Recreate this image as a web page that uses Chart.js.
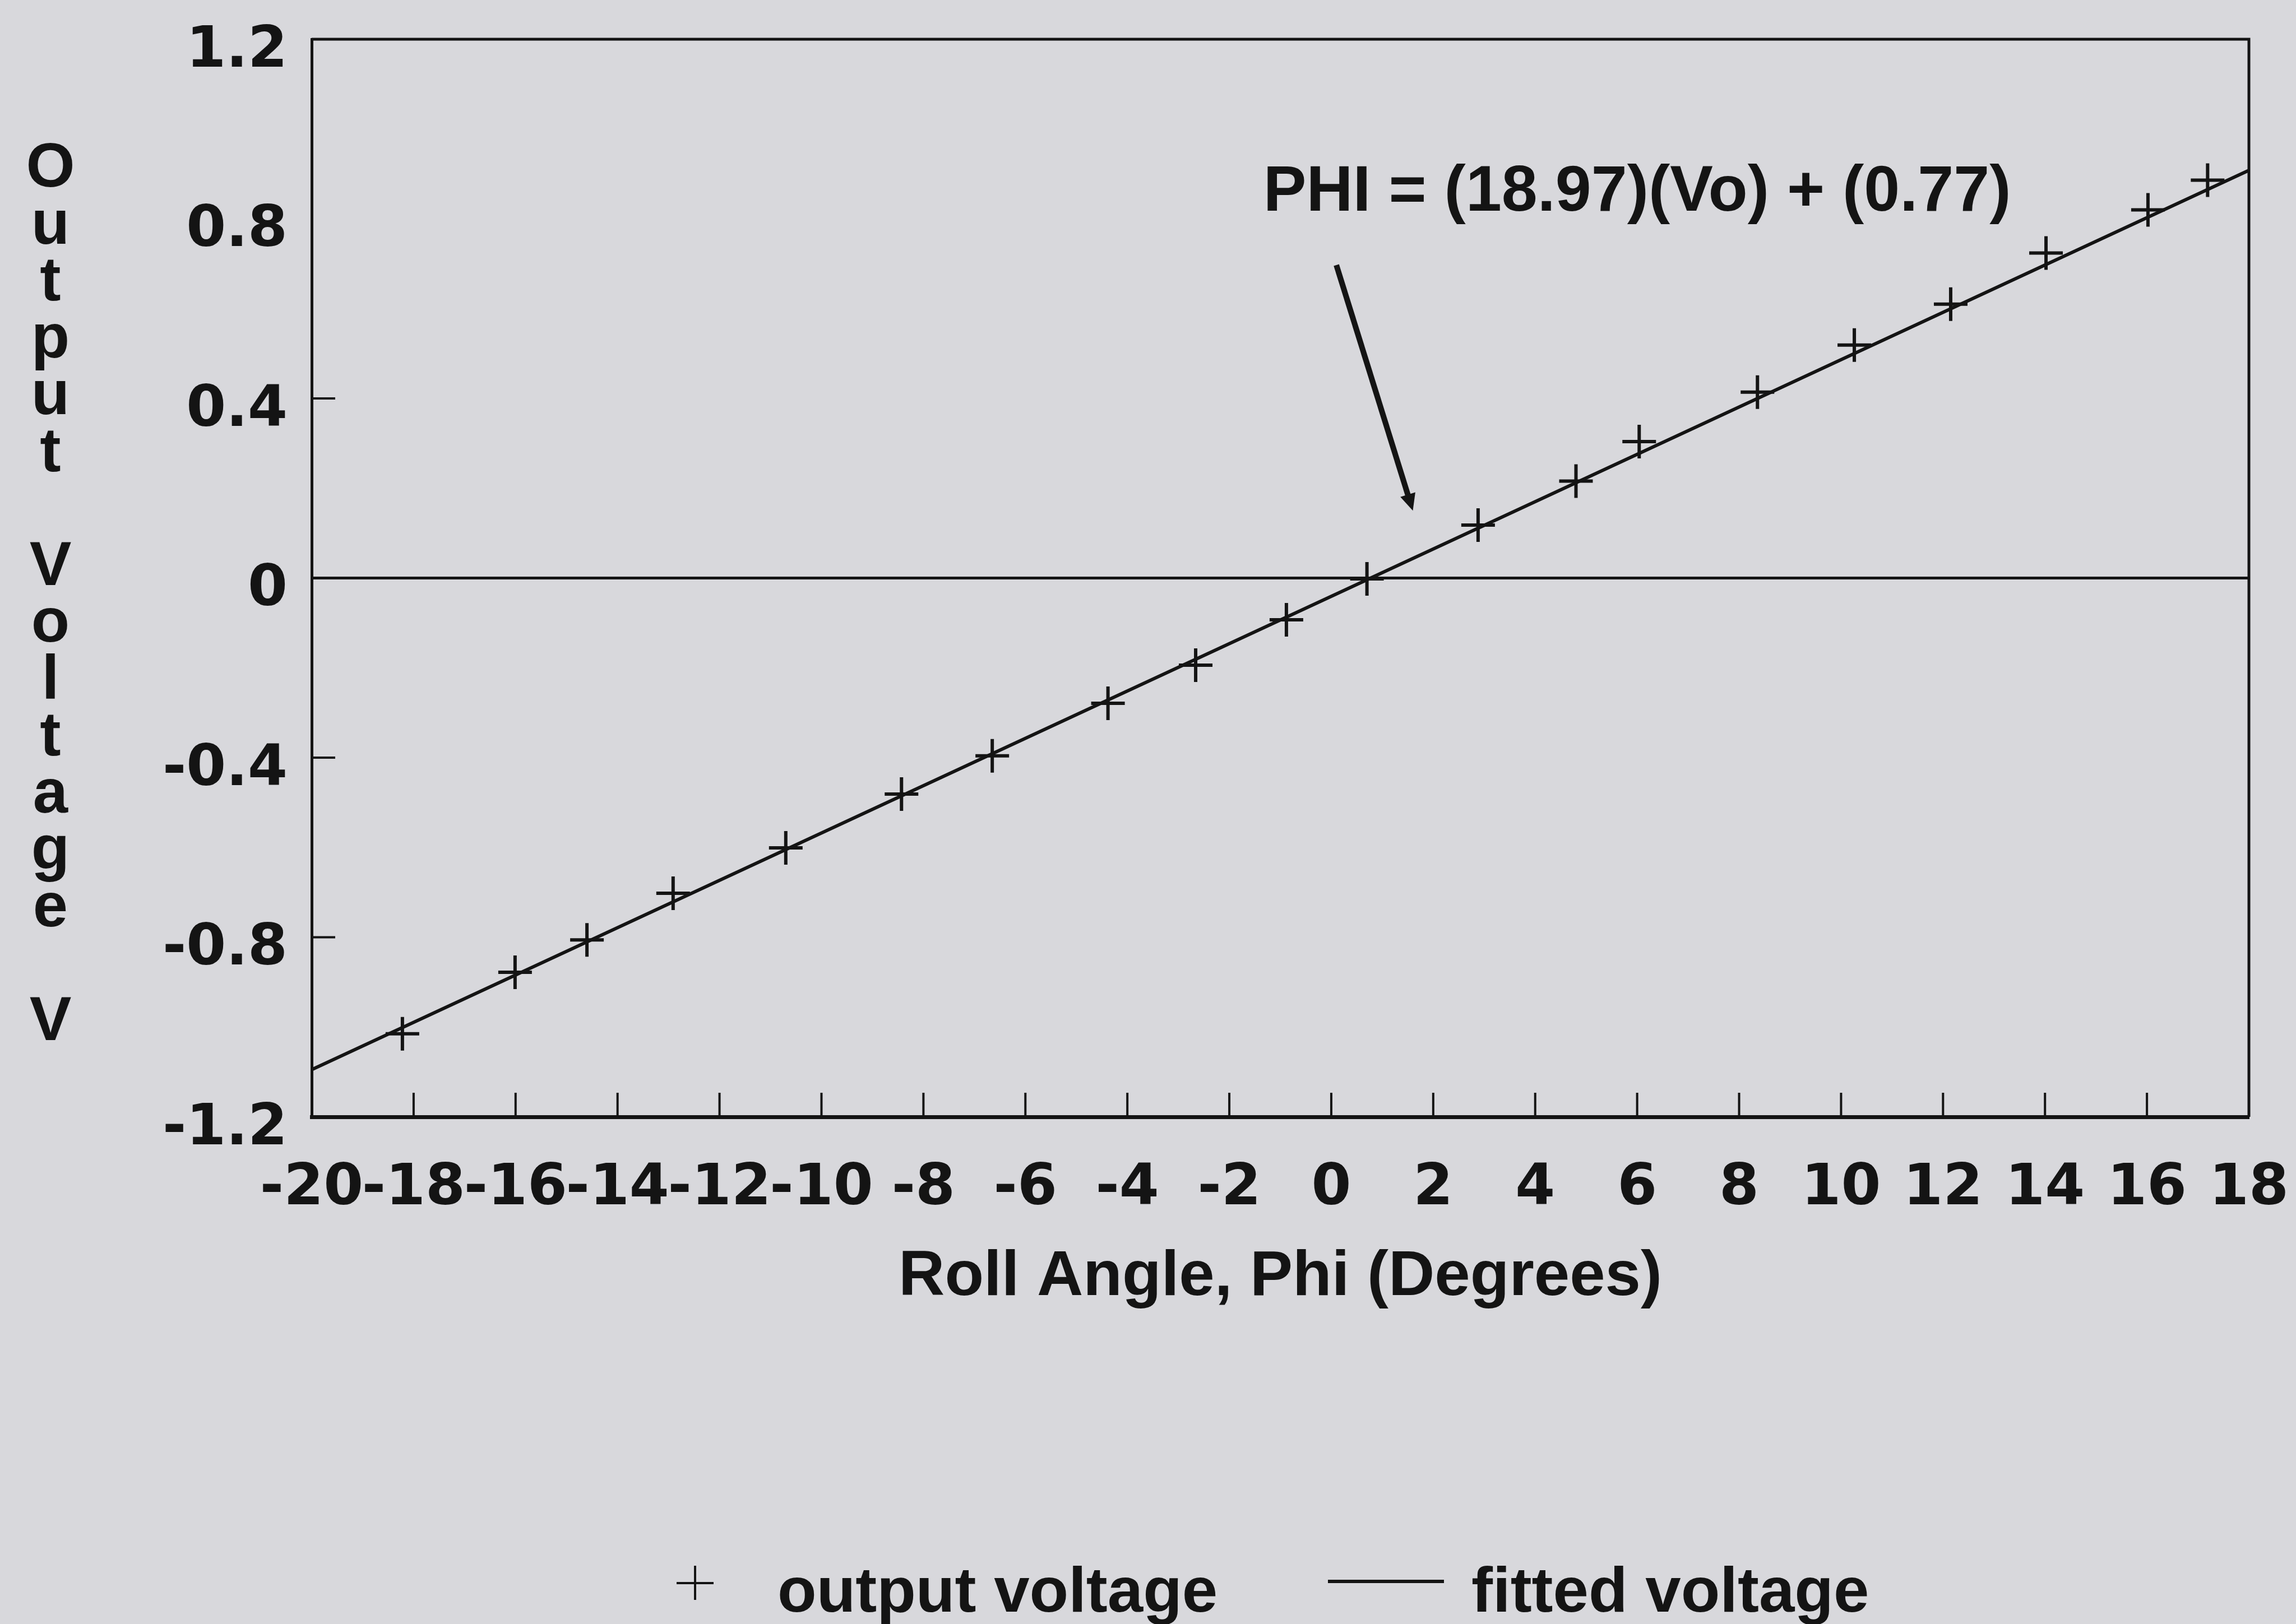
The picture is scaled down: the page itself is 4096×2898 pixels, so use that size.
<!DOCTYPE html>
<html>
<head>
<meta charset="utf-8">
<title>Roll Angle vs Output Voltage</title>
<script src="https://cdn.jsdelivr.net/npm/chart.js@4.4.1/dist/chart.umd.min.js"></script>
<style>
  html, body { margin: 0; padding: 0; background: #d8d8dc; overflow: hidden; }
  canvas { display: block; }
</style>
</head>
<body>
<canvas id="chart" width="4096" height="2898"></canvas>
<script>
// Measured roll angle (degrees) and sensor output voltage (V)
const rollAngle = [-18.22, -16.01, -14.60, -12.91, -10.70, -8.43, -6.65, -4.38, -2.66, -0.88,
                   0.70, 2.88, 4.80, 6.04, 8.36, 10.26, 12.15, 14.02, 16.02, 17.19];
const outputVoltage = [-1.015, -0.878, -0.806, -0.702, -0.601, -0.481, -0.396, -0.279, -0.194, -0.093,
                       -0.002, 0.118, 0.216, 0.304, 0.414, 0.519, 0.610, 0.724, 0.820, 0.886];

// Least-squares fit PHI = 18.97*Vo + 0.77, evaluated at the ends of the angle range
const fitAngle = [-20, 18];
const fitVoltage = [-1.095, 0.908];

const seriesLabels = ['output voltage', 'fitted voltage'];

const xTickValues = [-20, -18, -16, -14, -12, -10, -8, -6, -4, -2, 0, 2, 4, 6, 8, 10, 12, 14, 16, 18];
const xTickLabels = ['-20', '-18', '-16', '-14', '-12', '-10', '-8', '-6', '-4', '-2',
                     '0', '2', '4', '6', '8', '10', '12', '14', '16', '18'];
const yTickValues = [-1.2, -0.8, -0.4, 0, 0.4, 0.8, 1.2];
const yTickLabels = ['-1.2', '-0.8', '-0.4', '0', '0.4', '0.8', '1.2'];

// inward tick marks along the frame
const xTickMarks = [-18, -16, -14, -12, -10, -8, -6, -4, -2, 0, 2, 4, 6, 8, 10, 12, 14, 16];
const yTickMarks = [0.4, -0.4, -0.8];

const xTitle = 'Roll Angle, Phi (Degrees)';
const yTitle = 'Output Voltage V';
const fitEquation = 'PHI = (18.97)(Vo) + (0.77)';

// equation label anchor and arrow, in data coordinates
const equationAt = { x: 6.0, y: 0.818 };
const arrowFrom = { x: 0.10, y: 0.697 };
const arrowTo = { x: 1.60, y: 0.150 };

const INK = '#141414';
const PAPER = '#d8d8dc';
const TEXT_FONT = '"Liberation Sans", Arial, Helvetica, sans-serif';
const TICK_FONT = { family: '"DejaVu Sans", Verdana, sans-serif', size: 102, weight: 'bold' };

const CANVAS_W = 4096, CANVAS_H = 2898;
const AREA_LEFT = 556, AREA_RIGHT = 4012, AREA_TOP = 70, AREA_BOTTOM = 1993;

const paperPlugin = {
  id: 'paper',
  beforeDraw(chart) {
    const ctx = chart.ctx;
    ctx.save();
    ctx.fillStyle = PAPER;
    ctx.fillRect(0, 0, chart.width, chart.height);
    ctx.restore();
  }
};

const framePlugin = {
  id: 'frame',
  afterDatasetsDraw(chart) {
    const { ctx, chartArea: a, scales: { x, y } } = chart;
    ctx.save();
    ctx.strokeStyle = INK;
    ctx.lineCap = 'butt';
    ctx.lineWidth = 5;
    ctx.beginPath();
    ctx.moveTo(a.left, a.top);
    ctx.lineTo(a.right, a.top);
    ctx.lineTo(a.right, a.bottom);
    ctx.stroke();

    ctx.lineWidth = 4;
    ctx.beginPath();
    xTickMarks.forEach(v => {
      const px = x.getPixelForValue(v);
      ctx.moveTo(px, a.bottom);
      ctx.lineTo(px, a.bottom - 43);
    });
    yTickMarks.forEach(v => {
      const py = y.getPixelForValue(v);
      ctx.moveTo(a.left, py);
      ctx.lineTo(a.left + 42, py);
    });
    ctx.stroke();
    ctx.restore();
  }
};

const equationPlugin = {
  id: 'equation',
  afterDatasetsDraw(chart) {
    const { ctx, scales: { x, y } } = chart;
    ctx.save();
    ctx.fillStyle = INK;
    ctx.strokeStyle = INK;
    ctx.font = 'bold 115px ' + TEXT_FONT;
    ctx.textAlign = 'center';
    ctx.textBaseline = 'alphabetic';
    ctx.fillText(fitEquation, x.getPixelForValue(equationAt.x), y.getPixelForValue(equationAt.y));

    const x0 = x.getPixelForValue(arrowFrom.x), y0 = y.getPixelForValue(arrowFrom.y);
    const x1 = x.getPixelForValue(arrowTo.x), y1 = y.getPixelForValue(arrowTo.y);
    const ang = Math.atan2(y1 - y0, x1 - x0);
    const headLen = 30, headHalf = 14;
    const bx = x1 - Math.cos(ang) * headLen, by = y1 - Math.sin(ang) * headLen;
    ctx.lineWidth = 10;
    ctx.lineCap = 'butt';
    ctx.beginPath();
    ctx.moveTo(x0, y0);
    ctx.lineTo(bx + Math.cos(ang) * 4, by + Math.sin(ang) * 4);
    ctx.stroke();
    ctx.beginPath();
    ctx.moveTo(x1, y1);
    ctx.lineTo(bx - Math.sin(ang) * headHalf, by + Math.cos(ang) * headHalf);
    ctx.lineTo(bx + Math.sin(ang) * headHalf, by - Math.cos(ang) * headHalf);
    ctx.closePath();
    ctx.fill();
    ctx.restore();
  }
};

// vertical axis title written as a column of upright letters
const yTitlePlugin = {
  id: 'yTitle',
  afterDraw(chart) {
    const ctx = chart.ctx;
    ctx.save();
    ctx.fillStyle = INK;
    ctx.font = 'bold 112px ' + TEXT_FONT;
    ctx.textAlign = 'center';
    ctx.textBaseline = 'alphabetic';
    Array.from(yTitle).forEach((ch, i) => {
      if (ch.trim()) ctx.fillText(ch, 90, 333 + i * 101.5);
    });
    ctx.restore();
  }
};

// legend row under the axis title
const legendPlugin = {
  id: 'legendRow',
  afterDraw(chart) {
    const ctx = chart.ctx;
    const sets = chart.data.datasets;
    ctx.save();
    ctx.fillStyle = INK;
    ctx.strokeStyle = INK;
    ctx.font = 'bold 114px ' + TEXT_FONT;
    ctx.textAlign = 'left';
    ctx.textBaseline = 'alphabetic';

    ctx.lineWidth = 4;
    ctx.beginPath();
    ctx.moveTo(1207, 2825); ctx.lineTo(1273, 2825);
    ctx.moveTo(1240, 2794); ctx.lineTo(1240, 2855);
    ctx.stroke();
    ctx.fillText(sets[0].label, 1387, 2876);

    ctx.lineWidth = 6;
    ctx.beginPath();
    ctx.moveTo(2369, 2822); ctx.lineTo(2576, 2822);
    ctx.stroke();
    ctx.fillText(sets[1].label, 2625, 2876);
    ctx.restore();
  }
};

new Chart(document.getElementById('chart'), {
  type: 'scatter',
  data: {
    datasets: [
      {
        label: seriesLabels[0],
        data: rollAngle.map((a, i) => ({ x: a, y: outputVoltage[i] })),
        showLine: false,
        pointStyle: 'cross',
        pointRadius: 30,
        pointHoverRadius: 30,
        pointBorderWidth: 6,
        borderColor: INK,
        backgroundColor: INK
      },
      {
        label: seriesLabels[1],
        data: fitAngle.map((a, i) => ({ x: a, y: fitVoltage[i] })),
        showLine: true,
        pointRadius: 0,
        pointHoverRadius: 0,
        borderWidth: 6,
        borderColor: INK,
        backgroundColor: INK,
        fill: false
      }
    ]
  },
  options: {
    responsive: false,
    animation: false,
    devicePixelRatio: 1,
    events: [],
    layout: { padding: { left: 0, right: CANVAS_W - AREA_RIGHT, top: AREA_TOP, bottom: 0 } },
    plugins: { legend: { display: false }, tooltip: { enabled: false } },
    scales: {
      x: {
        type: 'linear',
        min: -20,
        max: 18,
        afterBuildTicks: s => { s.ticks = xTickValues.map(v => ({ value: v })); },
        afterFit: s => {
          s.height = CANVAS_H - AREA_BOTTOM;
          s.paddingLeft = 0;
          s.paddingRight = 0;
        },
        grid: { display: true, color: 'rgba(0,0,0,0)', drawTicks: false, lineWidth: 1 },
        border: { display: true, color: INK, width: 7 },
        ticks: {
          color: INK, font: TICK_FONT, padding: 68, autoSkip: false,
          maxRotation: 0, minRotation: 0,
          callback: (v, i) => xTickLabels[i]
        },
        title: {
          display: true, text: xTitle, color: INK,
          font: { family: TEXT_FONT, size: 114, weight: 'bold' },
          padding: { top: 0, bottom: 550 }
        }
      },
      y: {
        type: 'linear',
        min: -1.2,
        max: 1.2,
        afterBuildTicks: s => { s.ticks = yTickValues.map(v => ({ value: v })); },
        afterFit: s => {
          s.width = AREA_LEFT;
          s.paddingTop = 0;
          s.paddingBottom = 0;
        },
        grid: {
          color: c => (c.tick && c.tick.value === 0) ? INK : 'rgba(0,0,0,0)',
          lineWidth: 5,
          drawTicks: false
        },
        border: { display: true, color: INK, width: 5 },
        ticks: {
          color: INK, font: TICK_FONT, padding: 43, labelOffset: 22, autoSkip: false,
          callback: (v, i) => yTickLabels[i]
        }
      }
    }
  },
  plugins: [paperPlugin, framePlugin, equationPlugin, yTitlePlugin, legendPlugin]
});
</script>
</body>
</html>
